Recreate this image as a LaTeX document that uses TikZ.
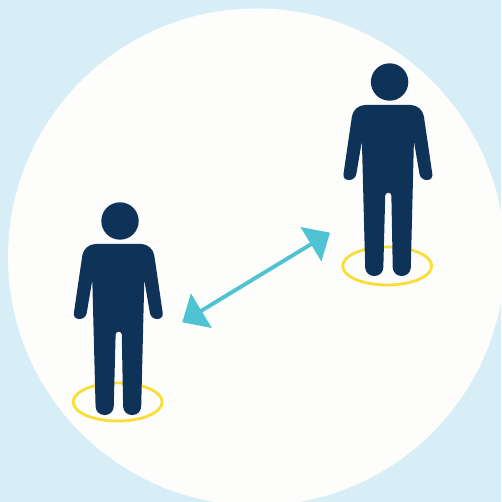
\documentclass[tikz,border=0pt]{standalone}
\usepackage{tikz}
\usetikzlibrary{arrows.meta}
\definecolor{dsback}{HTML}{D8EEF6}
\definecolor{dsdisc}{HTML}{FDFDFB}
\definecolor{dsnavy}{HTML}{0F3259}
\definecolor{dsyellow}{HTML}{FBDD3A}
\definecolor{dsteal}{HTML}{4EC3D1}
\tikzset{
  spot/.style={draw=dsyellow, line width=1.6pt},
  gap/.style={draw=dsteal, line width=2.2pt, {Triangle[length=12.7pt, width=22.5pt]}-{Triangle[length=12.7pt, width=22.5pt]}},
  person/.pic={
    \fill[dsnavy] (0,0) circle (18.7);
    \fill[dsnavy] (0,23) [rounded corners=6.5pt] -- (-36,23) [rounded corners=3.4pt] -- (-47,98) -- (-34.3,98)
      [rounded corners=0pt] -- (-27.7,59) [rounded corners=4.8pt] -- (-24.2,194) -- (-6.5,194)
      [rounded corners=1.6pt] -- (-4.3,110.7) -- (1.7,110.7) [rounded corners=4.8pt] -- (3.3,194) -- (21,194)
      [rounded corners=0pt] -- (24.3,59) [rounded corners=3.4pt] -- (30.9,98) -- (43.6,98)
      [rounded corners=6.5pt] -- (32.6,23) [rounded corners=0pt] -- cycle;
  }
}
\begin{document}
\begin{tikzpicture}[x=0.02cm, y=-0.02cm]
  \useasboundingbox (0,0) rectangle (501,502);
  \fill[dsback] (0,0) rectangle (501,502);
  \fill[dsdisc] (256.5,257) circle (248.5);
  \draw[spot] (117.7,402) ellipse (44.5 and 19);
  \draw[spot] (387.2,266) ellipse (44.5 and 19);
  \pic at (120,221) {person};
  \pic at (389.6,82) {person};
  \coordinate (leftend) at (182.3,322.3);
  \coordinate (rightend) at (330,232.7);
  \draw[gap] (leftend) -- (rightend);
\end{tikzpicture}
\end{document}
